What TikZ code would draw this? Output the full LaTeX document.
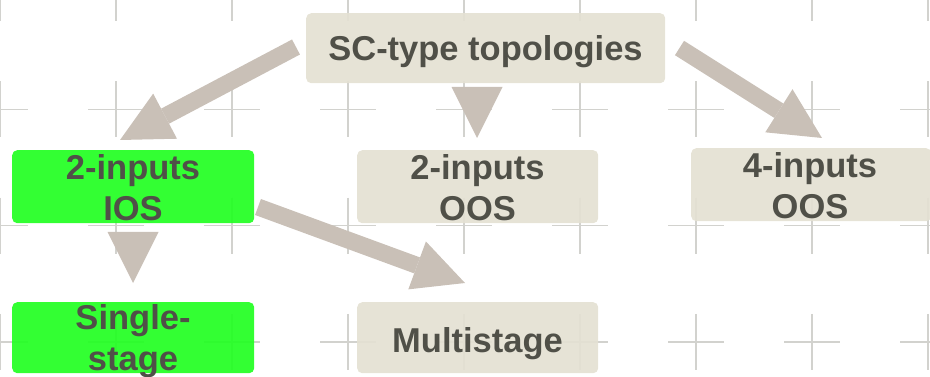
\documentclass[tikz,border=0pt]{standalone}
\usepackage{fontspec}
\setmainfont{Liberation Sans}
\usetikzlibrary{arrows.meta}
\definecolor{boxbeige}{HTML}{E4E1D3}
\definecolor{boxgreen}{HTML}{22FF22}
\definecolor{arrowtaupe}{HTML}{C9C0B7}
\definecolor{labelgray}{HTML}{505048}
\definecolor{gridgray}{HTML}{D2D2CE}

\begin{document}
\begin{tikzpicture}[x=1pt,y=-1pt,
  box/.style={rectangle, rounded corners=5pt, inner sep=0pt, anchor=north west, fill opacity=0.92},
  tanbox/.style={box, fill=boxbeige},
  limebox/.style={box, fill=boxgreen},
  boxtext/.style={inner sep=0pt, anchor=base, align=center, text=labelgray,
    font=\fontsize{34.5}{41}\selectfont\bfseries},
  bigarrow/.style={draw=arrowtaupe, line width=17pt,
    -{Triangle[length=51pt,width=51pt,line width=0pt]}},
  crossmark/.style={draw=gridgray, line width=1.5pt}
]
\useasboundingbox (0,0) rectangle (930,377);

% background grid of crosses
\foreach \i in {0,...,8}
  \foreach \j in {0,...,3} {
    \draw[crossmark] (116*\i-28, -7+116.3*\j) -- ++(56,0);
    \draw[crossmark] (116*\i, -7+116.3*\j-28) -- ++(0,56);
  }

% boxes
\node[tanbox,  minimum width=359pt, minimum height=70pt] (sc)      at (306,13)  {};
\node[limebox, minimum width=242pt, minimum height=73pt] (ios)     at (12,150)  {};
\node[tanbox,  minimum width=241pt, minimum height=73pt] (oostwo)  at (357,150) {};
\node[tanbox,  minimum width=240pt, minimum height=73pt] (oosfour) at (691,148) {};
\node[limebox, minimum width=242pt, minimum height=71pt] (single)  at (12,302)  {};
\node[tanbox,  minimum width=241pt, minimum height=71pt] (multi)   at (357,302) {};

% labels (base anchor sits on the last line)
\node[boxtext] (sc-t)      at (485.5,61)    {SC-type topologies};
\node[boxtext] (ios-t)     at (133,220.5)   {2-inputs\\IOS};
\node[boxtext] (oostwo-t)  at (477.5,220.5) {2-inputs\\OOS};
\node[boxtext] (oosfour-t) at (810,218.5)   {4-inputs\\OOS};
\node[boxtext] (single-t)  at (133,370.5)   {Single-\\stage};
\node[boxtext] (multi-t)   at (477.5,352)   {Multistage};

% arrow end points
\coordinate (a1s) at (296,47);    \coordinate (a1e) at (120,140);
\coordinate (a2s) at (477,87);    \coordinate (a2e) at (477,138);
\coordinate (a3s) at (679.5,48);  \coordinate (a3e) at (822,138);
\coordinate (a4s) at (133,232);   \coordinate (a4e) at (133,283);
\coordinate (a5s) at (258,207);   \coordinate (a5e) at (465,283);

% arrows
\draw[bigarrow] (a1s) -- (a1e);
\draw[bigarrow] (a2s) -- (a2e);
\draw[bigarrow] (a3s) -- (a3e);
\draw[bigarrow] (a4s) -- (a4e);
\draw[bigarrow] (a5s) -- (a5e);
\end{tikzpicture}
\end{document}
